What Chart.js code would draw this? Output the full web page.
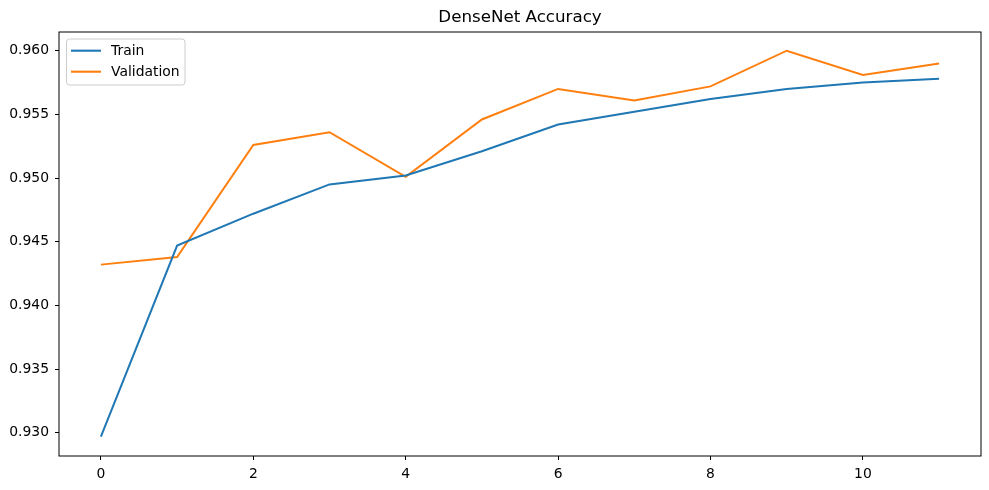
<!DOCTYPE html>
<html lang="en">
<head>
    <meta charset="UTF-8">
    <title>DenseNet Accuracy</title>
    <script src="https://cdn.jsdelivr.net/npm/chart.js"></script>
    <style>
        html, body { margin: 0; padding: 0; background: #fff; }
        #wrap { width: 989px; height: 490px; position: relative; }
    </style>
</head>
<body>
<div id="wrap">
    <canvas id="accChart"></canvas>
</div>

<script>
    // data
    var epochs = [0, 1, 2, 3, 4, 5, 6, 7, 8, 9, 10, 11];
    var trainAcc = [0.9297, 0.9447, 0.9472, 0.9495, 0.9502, 0.9521, 0.9542, 0.9552, 0.9562, 0.9570, 0.9575, 0.9578];
    var valAcc = [0.9432, 0.9438, 0.9526, 0.9536, 0.9501, 0.9546, 0.9570, 0.9561, 0.9572, 0.9600, 0.9581, 0.9590];
    var xTicks = [0, 2, 4, 6, 8, 10];
    var yTicks = [0.930, 0.935, 0.940, 0.945, 0.950, 0.955, 0.960];

    var FONT = '"DejaVu Sans", sans-serif';

    function toPoints(values) {
        return values.map(function (v, i) { return { x: epochs[i], y: v }; });
    }

    // frame, title and legend drawn the matplotlib way
    var mplDecor = {
        id: 'mplDecor',
        afterDraw: function (chart) {
            var ctx = chart.ctx;
            var a = chart.chartArea;
            ctx.save();

            // axes frame
            ctx.strokeStyle = '#000';
            ctx.lineWidth = 1;
            ctx.strokeRect(a.left, a.top, a.right - a.left, a.bottom - a.top);

            // title
            ctx.fillStyle = '#000';
            ctx.font = '16.7px ' + FONT;
            ctx.textAlign = 'center';
            ctx.textBaseline = 'middle';
            ctx.fillText('DenseNet Accuracy', (a.left + a.right) / 2, 18);

            // legend box
            var bx = a.left + 7.5, by = a.top + 7, bw = 118.5, bh = 46, r = 3;
            ctx.beginPath();
            ctx.moveTo(bx + r, by);
            ctx.arcTo(bx + bw, by, bx + bw, by + bh, r);
            ctx.arcTo(bx + bw, by + bh, bx, by + bh, r);
            ctx.arcTo(bx, by + bh, bx, by, r);
            ctx.arcTo(bx, by, bx + bw, by, r);
            ctx.closePath();
            ctx.fillStyle = 'rgba(255,255,255,0.8)';
            ctx.fill();
            ctx.strokeStyle = '#cccccc';
            ctx.stroke();

            ctx.font = '13.9px ' + FONT;
            ctx.textAlign = 'left';
            chart.data.datasets.forEach(function (ds, i) {
                var ly = by + 11.7 + i * 21;
                ctx.strokeStyle = ds.borderColor;
                ctx.lineWidth = 2.1;
                ctx.beginPath();
                ctx.moveTo(bx + 4.5, ly);
                ctx.lineTo(bx + 34.5, ly);
                ctx.stroke();
                ctx.fillStyle = '#000';
                ctx.fillText(ds.label, bx + 44.5, ly + 1);
            });

            ctx.restore();
        }
    };

    var ctx = document.getElementById('accChart').getContext('2d');
    var accChart = new Chart(ctx, {
        type: 'line',
        data: {
            datasets: [{
                label: 'Train',
                data: toPoints(trainAcc),
                borderColor: '#1f77b4',
                borderWidth: 2,
                pointRadius: 0,
                tension: 0,
                fill: false
            }, {
                label: 'Validation',
                data: toPoints(valAcc),
                borderColor: '#ff7f0e',
                borderWidth: 2,
                pointRadius: 0,
                tension: 0,
                fill: false
            }]
        },
        options: {
            responsive: true,
            maintainAspectRatio: false,
            animation: false,
            layout: {
                padding: { top: 32, right: 8, bottom: 0, left: 0 }
            },
            plugins: {
                legend: { display: false },
                title: { display: false },
                tooltip: { enabled: false }
            },
            scales: {
                x: {
                    type: 'linear',
                    min: -0.55,
                    max: 11.55,
                    afterBuildTicks: function (axis) {
                        axis.ticks = xTicks.map(function (v) { return { value: v }; });
                    },
                    afterFit: function (axis) { axis.height = 34; },
                    border: { display: false },
                    grid: {
                        drawOnChartArea: false,
                        drawTicks: true,
                        tickLength: 4,
                        color: '#000'
                    },
                    ticks: {
                        color: '#000',
                        padding: 6,
                        maxRotation: 0,
                        font: { family: FONT, size: 13.9 },
                        callback: function (v) { return String(v); }
                    }
                },
                y: {
                    type: 'linear',
                    min: 0.92817,
                    max: 0.96147,
                    afterBuildTicks: function (axis) {
                        axis.ticks = yTicks.map(function (v) { return { value: v }; });
                    },
                    afterFit: function (axis) { axis.width = 59; },
                    border: { display: false },
                    grid: {
                        drawOnChartArea: false,
                        drawTicks: true,
                        tickLength: 4,
                        color: '#000'
                    },
                    ticks: {
                        color: '#000',
                        padding: 6,
                        font: { family: FONT, size: 13.9 },
                        callback: function (v) { return Number(v).toFixed(3); }
                    }
                }
            }
        },
        plugins: [mplDecor]
    });
</script>

</body>
</html>
